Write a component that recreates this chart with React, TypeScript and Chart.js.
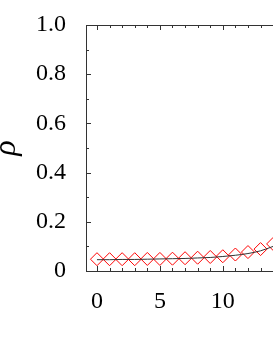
import React, { useEffect, useRef } from "react";
import { Chart, registerables } from "chart.js";

Chart.register(...registerables);

// Data
const pointX = [0, 1, 2, 3, 4, 5, 6, 7, 8, 9, 10, 11, 12, 13, 14];
const rhoPoints = [0.048, 0.048, 0.048, 0.048, 0.049, 0.049, 0.05, 0.052, 0.054, 0.057, 0.06, 0.067, 0.077, 0.089, 0.11];
const rhoCurve = [0.046, 0.046, 0.047, 0.047, 0.048, 0.049, 0.05, 0.051, 0.053, 0.055, 0.059, 0.064, 0.071, 0.082, 0.1];

const xMajorTicks = [0, 5, 10, 15];
const xMinorTicks = [0, 1, 2, 3, 4, 5, 6, 7, 8, 9, 10, 11, 12, 13, 14, 15];
const yMajorTicks = [0, 0.2, 0.4, 0.6, 0.8, 1.0];
const yMinorTicks = [0, 0.1, 0.2, 0.3, 0.4, 0.5, 0.6, 0.7, 0.8, 0.9, 1.0];
const yTitle = "ρ";

const AXIS = "#333";
const SERIF = '"Liberation Serif", serif';

Chart.defaults.font.family = SERIF;
Chart.defaults.color = "#000";

const frameTicks = {
  id: "frameTicks",
  afterDatasetsDraw(chart: any) {
    const { ctx, chartArea: a, scales } = chart;
    const xs = scales.x;
    const ys = scales.y;
    ctx.save();
    ctx.strokeStyle = AXIS;
    ctx.lineWidth = 1;
    ctx.beginPath();
    ctx.moveTo(a.left, a.top + 0.5);
    ctx.lineTo(a.right, a.top + 0.5);
    ctx.moveTo(a.right - 0.5, a.top);
    ctx.lineTo(a.right - 0.5, a.bottom);
    for (const v of xMinorTicks) {
      const len = xMajorTicks.includes(v) ? 5 : 3;
      const px = Math.round(xs.getPixelForValue(v)) + 0.5;
      ctx.moveTo(px, a.bottom);
      ctx.lineTo(px, a.bottom - len);
      ctx.moveTo(px, a.top);
      ctx.lineTo(px, a.top + len);
    }
    for (const v of yMinorTicks) {
      const len = yMajorTicks.some((m) => Math.abs(m - v) < 1e-9) ? 5 : 3;
      const py = Math.round(ys.getPixelForValue(v)) + 0.5;
      ctx.moveTo(a.left, py);
      ctx.lineTo(a.left + len, py);
      ctx.moveTo(a.right, py);
      ctx.lineTo(a.right - len, py);
    }
    ctx.stroke();
    ctx.restore();
  },
};

export default function App() {
  const ref = useRef<HTMLCanvasElement | null>(null);

  useEffect(() => {
    if (!ref.current) return;
    const chart = new Chart(ref.current, {
      type: "line",
      data: {
        datasets: [
          {
            label: "curve",
            data: pointX.map((x, i) => ({ x, y: rhoCurve[i] })),
            borderColor: "#333",
            borderWidth: 1,
            pointRadius: 0,
            tension: 0.4,
            cubicInterpolationMode: "monotone",
            fill: false,
          },
          {
            label: "rho",
            data: pointX.map((x, i) => ({ x, y: rhoPoints[i] })),
            showLine: false,
            pointStyle: "rectRot",
            pointRadius: 6.5,
            pointBorderWidth: 1,
            pointBorderColor: "#ff0000",
            pointBackgroundColor: "rgba(0,0,0,0)",
            borderColor: "#ff0000",
          },
        ],
      },
      options: {
        animation: false,
        responsive: false,
        events: [],
        layout: { padding: { left: 0, top: 25, right: 8, bottom: 0 } },
        plugins: { legend: { display: false }, tooltip: { enabled: false } },
        scales: {
          x: {
            type: "linear",
            min: -0.873,
            max: 15.5,
            grid: { display: false, drawTicks: false },
            border: { display: true, color: AXIS, width: 1 },
            afterBuildTicks: (s: any) => {
              s.ticks = xMajorTicks.map((v) => ({ value: v }));
            },
            afterFit: (s: any) => {
              s.height = 82;
              s.paddingLeft = 0;
              s.paddingRight = 0;
            },
            ticks: {
              autoSkip: false,
              maxRotation: 0,
              padding: 16,
              color: "#000",
              font: { family: SERIF, size: 24 },
              callback: (v: any) => String(v),
            },
          },
          y: {
            type: "linear",
            min: 0,
            max: 1,
            grid: { display: false, drawTicks: false },
            border: { display: true, color: AXIS, width: 1 },
            afterBuildTicks: (s: any) => {
              s.ticks = yMajorTicks.map((v) => ({ value: v }));
            },
            afterFit: (s: any) => {
              s.width = 86;
              s.paddingTop = 0;
              s.paddingBottom = 0;
            },
            ticks: {
              padding: 20,
              color: "#000",
              font: { family: SERIF, size: 24 },
              callback: (v: any) => (v === 0 ? "0" : Number(v).toFixed(1)),
            },
            title: {
              display: true,
              text: yTitle,
              color: "#000",
              padding: 0,
              font: { family: SERIF, size: 32, style: "italic", lineHeight: 0.4 },
            },
          },
        },
      },
      plugins: [frameTicks],
    });
    return () => chart.destroy();
  }, []);

  return (
    <div
      style={{
        position: "fixed",
        left: 0,
        top: 0,
        width: 273,
        height: 353,
        overflow: "hidden",
        background: "#fff",
      }}
    >
      <canvas ref={ref} width={300} height={353} style={{ display: "block" }} />
    </div>
  );
}
